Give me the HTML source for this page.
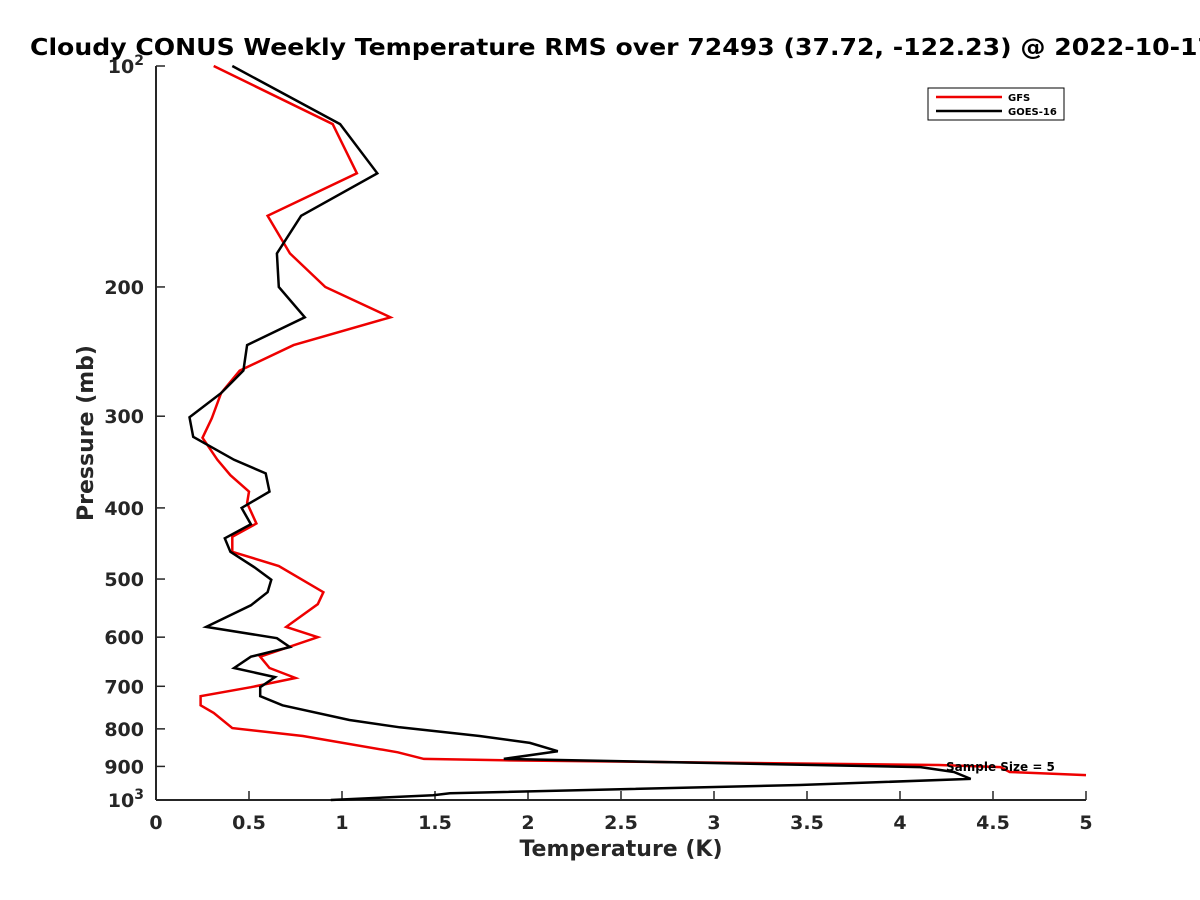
<!DOCTYPE html>
<html><head><meta charset="utf-8"><style>
html,body{margin:0;padding:0;background:#fff;width:1200px;height:900px;overflow:hidden}
svg text{font-family:"DejaVu Sans","Liberation Sans",sans-serif;font-weight:bold}
</style></head><body>
<svg id="chart" width="1200" height="900">
<rect width="1200" height="900" fill="#fff"/>
<text x="30" y="55" font-size="23" fill="#000" textLength="1185" lengthAdjust="spacingAndGlyphs">Cloudy CONUS Weekly Temperature RMS over 72493 (37.72, -122.23) @ 2022-10-17</text>
<g id="axes"></g>
<g id="series"></g>
<text x="946" y="771" font-size="12" fill="#000">Sample Size = 5</text>
<g>
<rect x="928" y="88" width="136" height="32" fill="#fff" stroke="#000" stroke-width="1"/>
<line x1="936" y1="97" x2="1002" y2="97" stroke="#e00" stroke-width="2.5"/>
<text x="1008" y="101" font-size="10">GFS</text>
<line x1="936" y1="111" x2="1002" y2="111" stroke="#000" stroke-width="2.5"/>
<text x="1008" y="115" font-size="10">GOES-16</text>
</g>
<text x="621" y="856" font-size="22" fill="#262626" text-anchor="middle">Temperature (K)</text>
<text transform="translate(93,433) rotate(-90)" font-size="22" fill="#262626" text-anchor="middle">Pressure (mb)</text>
</svg>
<script>
const xTicks = [0,0.5,1,1.5,2,2.5,3,3.5,4,4.5,5];
const xTickLabels = ["0","0.5","1","1.5","2","2.5","3","3.5","4","4.5","5"];
const yTicks = [200,300,400,500,600,700,800,900];
const gfsP = [100,120,140,160,180,200,220,240,260,279,302,321,344,361,380,394,420,438,459,480,521,541,581,600,638,661,682,702,722,743,761,798,818,861,879,883,896,902,916,925];
const gfsT = [0.31,0.95,1.08,0.60,0.72,0.91,1.26,0.74,0.45,0.35,0.30,0.25,0.33,0.40,0.50,0.49,0.54,0.41,0.41,0.66,0.90,0.87,0.70,0.87,0.56,0.61,0.75,0.51,0.24,0.24,0.31,0.41,0.79,1.30,1.44,1.87,4.21,4.54,4.59,5.0];
const goesP = [100,120,140,160,180,200,220,240,260,279,301,320,344,359,380,400,421,440,459,482,501,521,543,581,602,619,638,661,680,702,722,743,778,796,818,836,858,879,902,916,936,954,979,985,1000];
const goesT = [0.41,0.99,1.19,0.78,0.65,0.66,0.80,0.49,0.47,0.35,0.18,0.20,0.42,0.59,0.61,0.46,0.51,0.37,0.40,0.53,0.62,0.60,0.51,0.27,0.65,0.72,0.51,0.42,0.64,0.56,0.56,0.68,1.04,1.31,1.74,2.01,2.16,1.87,4.11,4.29,4.38,3.46,1.58,1.49,0.94];
const X0=156,X1=1086,Y0=66,Y1=800;
const xs = v => X0 + v/5*(X1-X0);
const ys = p => Y0 + (Math.log10(p)-2)*(Y1-Y0);
const NS="http://www.w3.org/2000/svg";
function mk(tag, attrs, parent){const e=document.createElementNS(NS,tag);for(const k in attrs)e.setAttribute(k,attrs[k]);parent.appendChild(e);return e;}
const axes=document.getElementById('axes');
const ya=mk('line',{x1:X0,y1:Y0,x2:X0,y2:Y1,stroke:'#262626','stroke-width':2},axes);


const xa=mk('line',{x1:X0,y1:Y1,x2:X1,y2:Y1,stroke:'#262626','stroke-width':2},axes);


xTicks.forEach((v,i)=>{
 const x=xs(v);
 mk('line',{x1:x,y1:Y1,x2:x,y2:Y1-9,stroke:'#262626','stroke-width':1.5},axes);
 const t=mk('text',{x:x,y:Y1+29,'font-size':19,fill:'#262626','text-anchor':'middle'},axes);
 t.textContent=xTickLabels[i];
 
 
});
[100,...yTicks,1000].forEach(p=>{
 const y=ys(p);
 mk('line',{x1:X0,y1:y,x2:X0+9,y2:y,stroke:'#262626','stroke-width':1.5},axes);
 const t=mk('text',{x:X0-12,y:y+7,'font-size':19,fill:'#262626','text-anchor':'end'},axes);
 if(p===100||p===1000){
  t.textContent='10';
  const s=mk('tspan',{dy:-8,'font-size':14},t); s.textContent=p===100?'2':'3';
 } else t.textContent=String(p);
 
 
});
const ser=document.getElementById('series');
function line(P,T,color,name){
 const pts=P.map((p,i)=>xs(T[i]).toFixed(1)+','+ys(p).toFixed(1)).join(' ');
 const pl=mk('polyline',{points:pts,fill:'none',stroke:color,'stroke-width':2.5,'stroke-linejoin':'miter'},ser);
 
 
}
line(gfsP,gfsT,'#e00','gfs-line');
line(goesP,goesT,'#000','goes16-line');
</script>
</body></html>
